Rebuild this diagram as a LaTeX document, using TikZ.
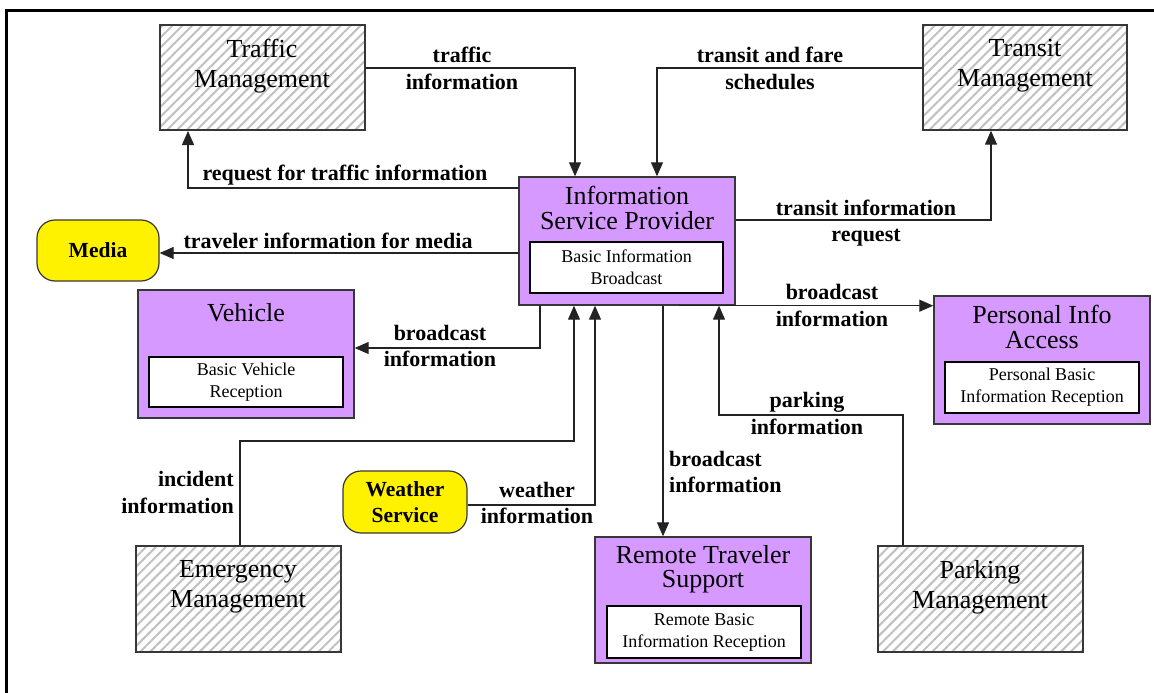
\documentclass[tikz,border=0pt]{standalone}
\usepackage{fontspec}
\setmainfont{Liberation Serif}
\usetikzlibrary{arrows.meta,patterns.meta}

\definecolor{subviolet}{RGB}{214,153,255}
\definecolor{edgegray}{RGB}{55,55,55}
\definecolor{hatchgray}{RGB}{192,192,192}
\definecolor{wire}{RGB}{35,35,35}

\tikzset{
  terminator/.style={draw=edgegray, line width=1.4pt, inner sep=0pt,
    pattern={Lines[angle=45,distance=7pt,line width=2pt]}, pattern color=hatchgray},
  subsystem/.style={draw=edgegray, fill=subviolet, line width=1.4pt, inner sep=0pt},
  pspec/.style={draw=black, fill=white, line width=1.3pt, inner sep=0pt, align=center,
    font=\fontsize{18}{22}\selectfont},
  termtitle/.style={align=center, inner sep=0pt, font=\fontsize{26}{30}\selectfont},
  subtitle/.style={align=center, inner sep=0pt, font=\fontsize{26}{25}\selectfont},
  service/.style={draw=edgegray, fill=yellow, line width=1.2pt, rounded corners=18pt,
    inner sep=0pt, align=center, font=\bfseries\fontsize{21.5}{26}\selectfont},
  flow/.style={draw=wire, line width=1.2pt, -{Triangle[length=14pt,width=12pt]}},
  flowlabel/.style={align=center, inner sep=0pt, font=\bfseries\fontsize{22}{26.5}\selectfont},
}

\begin{document}
\begin{tikzpicture}[x=1pt,y=-1pt]
\useasboundingbox (0,0) rectangle (1154,693);

% page frame (top and left rules)
\draw[line width=3pt, line cap=rect] (1154,11) -- (6,11) -- (6,693);

% terminators
\node[terminator, minimum width=205pt, minimum height=105pt] (tm) at (262.5,77.5) {};
\node[termtitle] (tmt) at (262,66) {Traffic\\Management};
\node[terminator, minimum width=204pt, minimum height=105pt] (trm) at (1025,77.5) {};
\node[termtitle] (trmt) at (1025,66) {Transit\\Management};
\node[terminator, minimum width=205pt, minimum height=106pt] (em) at (238.5,599) {};
\node[termtitle] (emt) at (238,587) {Emergency\\Management};
\node[terminator, minimum width=205pt, minimum height=106pt] (pm) at (980.5,599) {};
\node[termtitle] (pmt) at (980,587) {Parking\\Management};

% external services
\node[service, minimum width=122pt, minimum height=61pt] (media) at (98,250.5) {Media};
\node[service, minimum width=124pt, minimum height=62pt] (ws) at (405,502) {Weather\\Service};

% subsystems with their package boxes
\node[subsystem, minimum width=216pt, minimum height=128pt] (isp) at (627,241) {};
\node[subtitle] (ispt) at (627,208) {Information\\Service Provider};
\node[pspec, minimum width=193pt, minimum height=51pt] (ispp) at (626.5,267.5) {Basic Information\\Broadcast};

\node[subsystem, minimum width=216pt, minimum height=128pt] (veh) at (246,354) {};
\node[subtitle] (veht) at (246,313) {Vehicle};
\node[pspec, minimum width=194pt, minimum height=50pt] (vehp) at (246,382) {Basic Vehicle\\Reception};

\node[subsystem, minimum width=216pt, minimum height=126pt] (rts) at (703,600) {};
\node[subtitle, font=\fontsize{26}{24}\selectfont] (rtst) at (703,569) {Remote Traveler\\Support};
\node[pspec, minimum width=194pt, minimum height=52pt] (rtsp) at (704,632) {Remote Basic\\Information Reception};

\node[subsystem, minimum width=216pt, minimum height=128pt] (pia) at (1042,360) {};
\node[subtitle] (piat) at (1042,327) {Personal Info\\Access};
\node[pspec, minimum width=194pt, minimum height=51pt] (piap) at (1042,387.5) {Personal Basic\\Information Reception};

% flows
\draw[flow] (tm.east |- 0,68) -- (575,68) -- (isp.north -| 575,0);
\draw[flow] (trm.west |- 0,68) -- (657,68) -- (isp.north -| 657,0);
\draw[flow] (isp.west |- 0,188) -- (188,188) -- (tm.south -| 188,0);
\draw[flow] (isp.west |- 0,253) -- (media.east |- 0,253);
\draw[flow] (isp.east |- 0,220) -- (991,220) -- (trm.south -| 991,0);
\draw[flow] (isp.south -| 540,0) -- (540,348) -- (veh.east |- 0,348);
\draw[flow] (em.north -| 240,0) -- (240,441) -- (574,441) -- (isp.south -| 574,0);
\draw[flow] (ws.east |- 0,505) -- (595,505) -- (isp.south -| 595,0);
\draw[flow] (isp.south -| 663,0) -- (rts.north -| 663,0);
\draw[flow] (pm.north -| 903,0) -- (903,415) -- (719,415) -- (isp.south -| 719,0);
\draw[flow] (isp.south -| 679,0) -- (pia.west |- isp.south);

% flow labels
\node[flowlabel] (l1) at (462,68.5) {traffic\\information};
\node[flowlabel] (l2) at (770,68.5) {transit and fare\\schedules};
\node[flowlabel] (l3) at (345,175) {request for traffic information};
\node[flowlabel] (l4) at (328,240.5) {traveler information for media};
\node[flowlabel] (l5) at (866,223) {transit information\\request};
\node[flowlabel] (l6) at (440,346) {broadcast\\information};
\node[flowlabel, align=right, anchor=east] (l7) at (234,492.5) {incident\\information};
\node[flowlabel] (l8) at (537,503) {weather\\information};
\node[flowlabel, align=left, anchor=west] (l9) at (669,472) {broadcast\\information};
\node[flowlabel] (l10) at (807,413.5) {parking\\information};
\node[flowlabel] (l11) at (832,305.5) {broadcast\\information};
\end{tikzpicture}
\end{document}
